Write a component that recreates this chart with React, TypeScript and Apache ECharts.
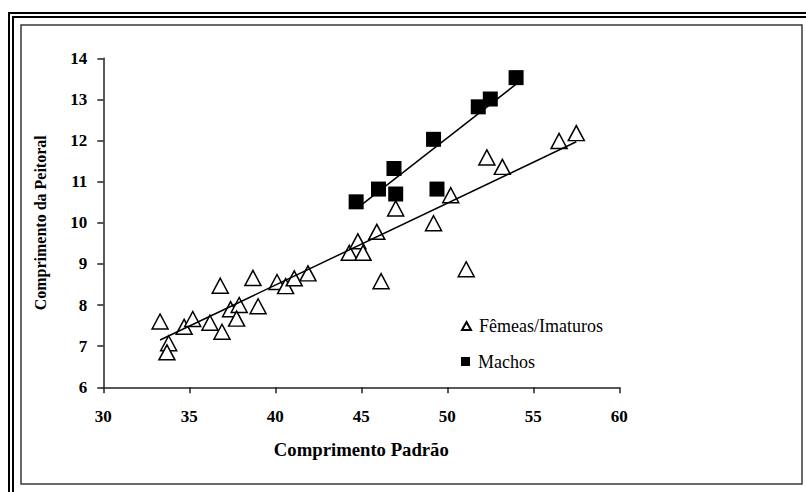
import React, { useEffect, useRef } from "react";
import * as echarts from "echarts";

// Fêmeas/Imaturos
const femX = [33.3, 33.8, 33.7, 34.7, 35.2, 36.2, 36.8, 36.9, 37.4, 37.9, 37.75, 38.7, 39.0, 40.1, 40.6, 41.1, 41.9, 44.3, 44.8, 45.1, 45.9, 46.15, 47.0, 49.2, 50.2, 51.1, 52.3, 53.2, 56.5, 57.5];
const femY = [7.6, 7.07, 6.85, 7.47, 7.66, 7.57, 8.47, 7.35, 7.9, 8.0, 7.67, 8.66, 7.97, 8.56, 8.46, 8.65, 8.77, 9.27, 9.55, 9.27, 9.78, 8.58, 10.35, 9.99, 10.67, 8.87, 11.59, 11.36, 11.99, 12.18];
// Machos
const macX = [44.7, 46.0, 46.9, 47.0, 49.2, 49.4, 51.8, 52.5, 54.0];
const macY = [10.51, 10.82, 11.32, 10.7, 12.03, 10.82, 12.82, 13.01, 13.53];

// Linear trend lines (start and end points)
const femTrendX = [33.3, 57.5];
const femTrendY = [7.15, 11.97];
const macTrendX = [44.75, 54.0];
const macTrendY = [10.35, 13.37];

const seriesNames = ["Fêmeas/Imaturos", "Machos"];
const xTitle = "Comprimento Padrão";
const yTitle = "Comprimento da Peitoral";

function pairs(xs: number[], ys: number[]) {
  return xs.map((x, i) => [x, ys[i]]);
}

const FONT = "Liberation Serif";

export default function App() {
  const ref = useRef<HTMLDivElement>(null);
  useEffect(() => {
    document.body.style.margin = "0";
    if (!ref.current) return;
    const chart = echarts.init(ref.current, null, { renderer: "svg" });
    const legendText = { fontFamily: FONT, fontSize: 18, color: "#000", lineHeight: 18, padding: [0, 0, 0, 3] };
    chart.setOption({
      animation: false,
      backgroundColor: "#fff",
      textStyle: { fontFamily: FONT },
      grid: { left: 103.3, right: 186.7, top: 58.3, bottom: 104.7, containLabel: false },
      graphic: [
        { type: "rect", shape: { x: 9, y: 13, width: 900, height: 600 }, style: { fill: "none", stroke: "#000", lineWidth: 2 }, silent: true },
        { type: "rect", shape: { x: 13, y: 17, width: 900, height: 600 }, style: { fill: "none", stroke: "#000", lineWidth: 2 }, silent: true },
        { type: "rect", shape: { x: 21, y: 25, width: 781, height: 459 }, style: { fill: "none", stroke: "#3a3a3a", lineWidth: 1.5 }, silent: true },
      ],
      legend: [
        {
          data: [seriesNames[0]], left: 461, top: 317, padding: 0, itemWidth: 9, itemHeight: 8,
          textStyle: legendText, selectedMode: false,
        },
        {
          data: [seriesNames[1]], left: 461, top: 352.5, padding: 0, itemWidth: 9, itemHeight: 9,
          textStyle: legendText, selectedMode: false,
        },
      ],
      xAxis: {
        type: "value", min: 30, max: 60, interval: 5,
        name: xTitle, nameLocation: "middle", nameGap: 53,
        nameTextStyle: { fontFamily: FONT, fontSize: 18.7, fontWeight: "bold", color: "#000" },
        axisLine: { onZero: false, lineStyle: { color: "#222", width: 1.5 } },
        axisTick: { length: 6, lineStyle: { color: "#222", width: 1.5 } },
        axisLabel: { margin: 21, fontFamily: FONT, fontSize: 17, fontWeight: "bold", color: "#000" },
        splitLine: { show: false },
      },
      yAxis: {
        type: "value", min: 6, max: 14, interval: 1,
        name: yTitle, nameLocation: "middle", nameGap: 55, nameRotate: 90,
        nameTextStyle: { fontFamily: FONT, fontSize: 16, fontWeight: "bold", color: "#000" },
        axisLine: { show: true, onZero: false, lineStyle: { color: "#222", width: 1.5 } },
        axisTick: { show: true, length: 6, lineStyle: { color: "#222", width: 1.5 } },
        axisLabel: { margin: 16, fontFamily: FONT, fontSize: 17, fontWeight: "bold", color: "#000" },
        splitLine: { show: false },
      },
      series: [
        {
          name: seriesNames[0], type: "scatter", symbol: "triangle", symbolSize: [16, 15],
          itemStyle: { color: "#fff", borderColor: "#000", borderWidth: 1.5, opacity: 1 },
          data: pairs(femX, femY), z: 2,
        },
        {
          name: seriesNames[1], type: "scatter", symbol: "rect", symbolSize: 15,
          itemStyle: { color: "#000", borderColor: "#000", borderWidth: 0, opacity: 1 },
          data: pairs(macX, macY), z: 3,
        },
        {
          name: "trend1", type: "line", data: pairs(femTrendX, femTrendY), showSymbol: false, symbol: "none",
          lineStyle: { color: "#000", width: 1.5 }, z: 5, silent: true,
        },
        {
          name: "trend2", type: "line", data: pairs(macTrendX, macTrendY), showSymbol: false, symbol: "none",
          lineStyle: { color: "#000", width: 1.5 }, z: 5, silent: true,
        },
      ],
    });
    return () => chart.dispose();
  }, []);
  return <div ref={ref} style={{ width: 806, height: 492 }} />;
}
